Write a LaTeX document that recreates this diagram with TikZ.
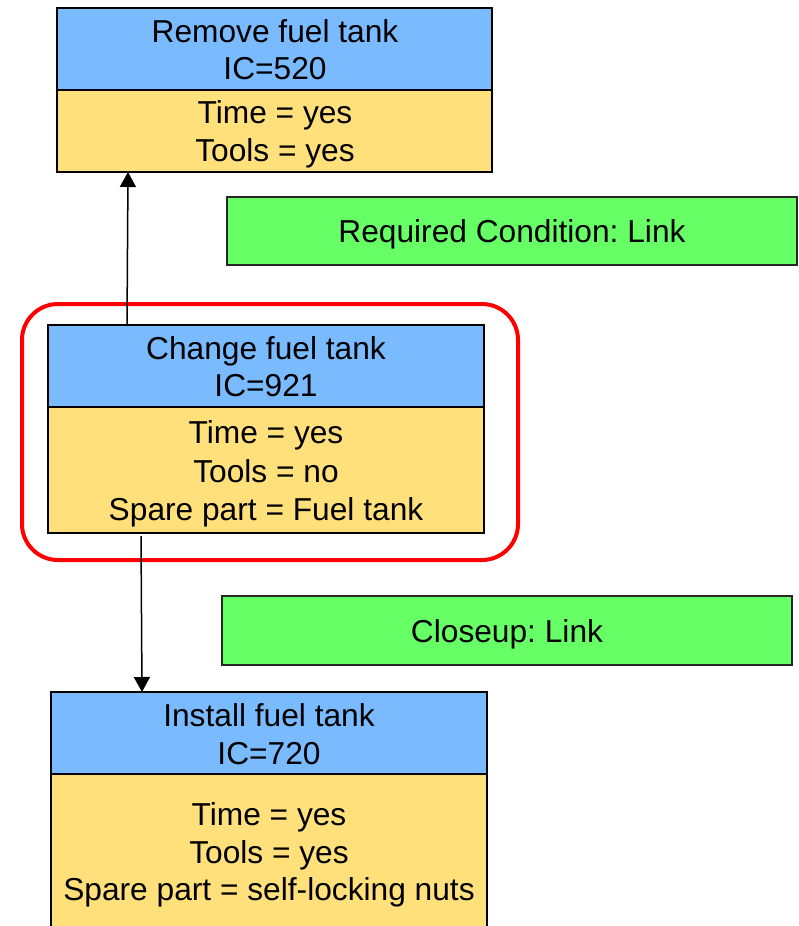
\documentclass[tikz,border=0pt]{standalone}
\usepackage{fontspec}
\setmainfont{Liberation Sans}
\frenchspacing
\usetikzlibrary{arrows.meta}
\definecolor{hdrblue}{RGB}{122,186,255}
\definecolor{bodyyellow}{RGB}{255,224,122}
\definecolor{linkgreen}{RGB}{102,255,102}
\tikzset{
  cell/.style={draw=black, line width=1.8pt, inner sep=0pt, outer sep=0pt, anchor=north west},
  hdr/.style={cell, fill=hdrblue},
  bdy/.style={cell, fill=bodyyellow},
  linkbox/.style={draw=black!85, line width=1.6pt, fill=linkgreen, inner sep=0pt, outer sep=0pt, anchor=north west},
  txt/.style={anchor=base, inner sep=0pt, font=\fontsize{31.7}{38}\selectfont},
  conn/.style={line width=1.5pt, -{Triangle[length=15pt,width=16pt]}},
  selbox/.style={draw=red, line width=4pt, rounded corners=36pt, inner sep=0pt, anchor=north west}
}
\begin{document}
\begin{tikzpicture}[x=1pt,y=-1pt]
\useasboundingbox (0,0) rectangle (798,926);
\clip (0,0) rectangle (798,926);
\fill[white] (0,0) rectangle (798,926);
% selection frame
\node[selbox, minimum width=496pt, minimum height=256pt] (sel) at (20,302) {};
% box 1
\node[hdr, minimum width=435pt, minimum height=82pt] (rmH) at (57,8) {};
\node[bdy, minimum width=435pt, minimum height=82pt] (rmB) at (57,90) {};
\node[txt] (rm1) at (275,42) {Remove fuel tank};
\node[txt] (rm2) at (275,79) {IC=520};
\node[txt] (rm3) at (275,123) {Time = yes};
\node[txt] (rm4) at (275,161) {Tools = yes};
% green 1
\node[linkbox, minimum width=570pt, minimum height=68pt] (g1) at (227,197) {};
\node[txt] (g1t) at (512,242) {Required Condition: Link};
% box 2
\node[hdr, minimum width=436pt, minimum height=82pt] (chH) at (48,325) {};
\node[bdy, minimum width=436pt, minimum height=126pt] (chB) at (48,407) {};
\node[txt] (ch1) at (266,359) {Change fuel tank};
\node[txt] (ch2) at (266,396) {IC=921};
\node[txt] (ch3) at (266,443) {Time = yes};
\node[txt] (ch4) at (266,482) {Tools = no};
\node[txt] (ch5) at (266,520) {Spare part = Fuel tank};
% green 2
\node[linkbox, minimum width=570pt, minimum height=69pt] (g2) at (222,596) {};
\node[txt] (g2t) at (507,642) {Closeup: Link};
% box 3
\node[hdr, minimum width=436pt, minimum height=82pt] (inH) at (51,692) {};
\node[bdy, minimum width=436pt, minimum height=156pt] (inB) at (51,774) {};
\node[txt] (in1) at (269,726) {Install fuel tank};
\node[txt] (in2) at (269,764) {IC=720};
\node[txt] (in3) at (269,825) {Time = yes};
\node[txt] (in4) at (269,863) {Tools = yes};
\node[txt] (in5) at (269,900) {Spare part = self-locking nuts};
% connectors
\draw[conn] ([xshift=79pt]chH.north west) -- ([xshift=71pt]rmB.south west);
\draw[conn] ([xshift=93pt,yshift=-3pt]chB.south west) -- ([xshift=91pt]inH.north west);
\end{tikzpicture}
\end{document}
